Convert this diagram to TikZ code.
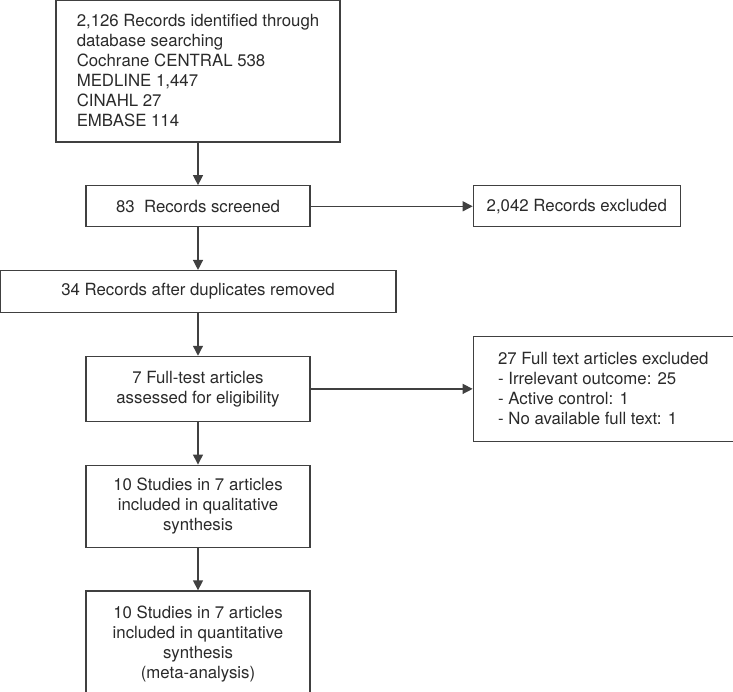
\documentclass[tikz,border=0pt]{standalone}
\usepackage{fontspec}
\setmainfont{TeX Gyre Heros}
\usetikzlibrary{arrows.meta,positioning}
\definecolor{linegray}{HTML}{404040}
\definecolor{textgray}{HTML}{2A2A2A}

\begin{document}
\begin{tikzpicture}[
        x=1pt, y=1pt,
        node distance=42.5pt and 162pt,
        every node/.style={draw=linegray, line width=1.3pt, text=textgray, align=center, inner sep=0pt, font=\fontsize{16.8}{20}\selectfont},
        stage/.style={minimum width=224pt},
        listbox/.style={align=left},
        link/.style={->, line width=1.3pt, draw=linegray},
        >={Triangle[length=10pt,width=10pt]}
    ]

    \useasboundingbox (0,0) rectangle (733,-692);

    % Nodes
    \node (search) at (198,-71) [listbox, minimum width=284pt, minimum height=142pt]
        {2,126 Records identified through\\
        database searching\\
        Cochrane CENTRAL 538\\
        MEDLINE 1,447\\
        CINAHL 27\\
        EMBASE 114};

    \node (screened)[below=of search, stage, minimum height=41pt] {83\ \ Records screened};
    \node (excl1)[right=of screened, minimum width=207pt, minimum height=41pt] {2,042 Records excluded};

    \node (dupl)[below=of screened, minimum width=396pt, minimum height=42pt] {34 Records after duplicates removed};

    \node (full)[below=of dupl, stage, minimum height=65pt] {7 Full-test articles\\
        assessed for eligibility};
    \node (excl2)[right=of full, listbox, minimum width=260pt, minimum height=105pt] {27 Full text articles excluded\\
        - Irrelevant outcome: 25\\
        - Active control: 1\\
        - No available full text: 1};

    \node (qual)[below=of full, stage, minimum height=82pt] {10 Studies in 7 articles\\
        included in qualitative\\
        synthesis};
    \node (quant)[below=of qual, stage, minimum height=106pt] {10 Studies in 7 articles\\
        included in quantitative\\
        synthesis\\
        (meta-analysis)};

    % Edges
    \draw[link] (search) -- (screened);
    \draw[link] (screened) -- (excl1);
    \draw[link] (screened) -- (dupl);
    \draw[link] (dupl) -- (full);
    \draw[link] (full) -- (excl2);
    \draw[link] (full) -- (qual);
    \draw[link] (qual) -- (quant);

\end{tikzpicture}
\end{document}
